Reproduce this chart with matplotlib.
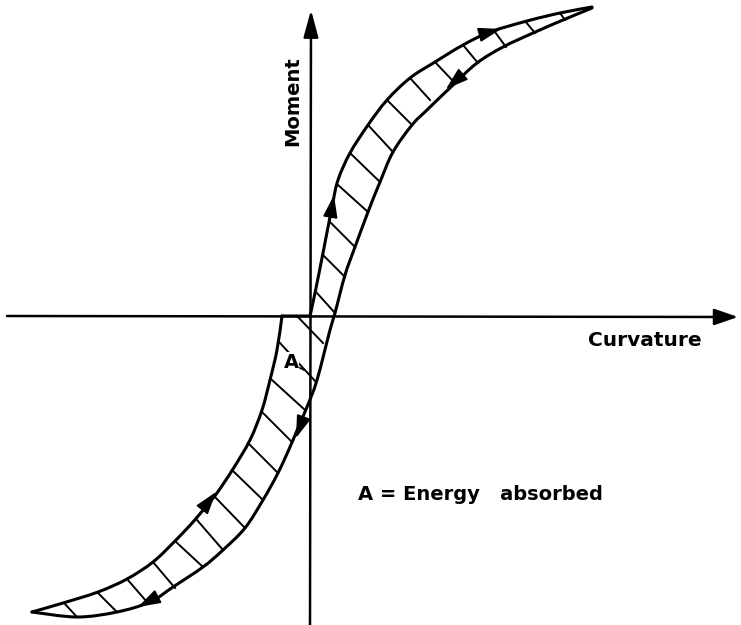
import numpy as np
import matplotlib.pyplot as plt
from matplotlib.patches import FancyArrowPatch, PathPatch
from matplotlib.path import Path

# --- loop data (curvature, moment), origin at the axes crossing ---
# loading branch: bottom-left tip -> top-right tip
load_x = [-278, -247, -212, -183, -157, -135, -117, -102, -93, -77, -60, -48, -40, -33, -28,
          0, 5, 13, 22, 28, 40, 58, 77, 100, 125, 153, 180, 217, 250, 282]
load_y = [-296, -287, -276, -263, -246, -225, -206, -188, -177, -153, -124, -94, -64, -34, 0,
          0, 23, 63, 109, 136, 163, 191, 216, 238, 254, 271, 284, 295, 303, 309]

# unloading branch: top-right tip -> bottom-left tip
unload_x = [282, 253, 223, 193, 167, 143, 117, 102, 83, 70, 58, 45, 35, 25, 20, 7, -3, -12,
            -20, -32, -47, -65, -87, -107, -137, -160, -193, -233, -278]
unload_y = [308, 296, 283, 269, 253, 231, 206, 191, 164, 134, 104, 69, 41, 3, -14, -64, -91,
            -112, -131, -157, -184, -212, -234, -251, -271, -286, -296, -301, -296]

# hatch strokes across the loop (start on loading branch, end on unloading branch)
hatch_x0 = [7, 13, 20, 28, 40, 58, 77, 100, 125, 153, 185, 215, 250,
            -13, -30, -38, -48, -62, -78, -95, -113, -135, -157, -183, -212, -245]
hatch_y0 = [23, 61, 94, 131, 163, 191, 216, 238, 254, 271, 284, 295, 303,
            0, -27, -64, -96, -127, -154, -181, -204, -225, -246, -263, -277, -288]
hatch_x1 = [25, 35, 45, 58, 70, 83, 102, 120, 142, 168, 196, 225, 255,
            13, 6, -5, -18, -32, -47, -65, -87, -107, -135, -163, -193, -233]
hatch_y1 = [3, 39, 69, 104, 134, 164, 191, 216, 236, 253, 269, 283, 296,
            -27, -66, -94, -126, -157, -184, -212, -234, -251, -272, -286, -296, -301]

# direction arrows on the loop (tail -> tip)
arr_tail = [(176, 283), (151, 240), (21, 103), (-7, -103), (-108, -194), (-153, -281)]
arr_tip = [(191, 287), (136, 227), (24, 121), (-14, -122), (-94, -176), (-172, -291)]


def smooth_path(xs, ys):
    # Catmull-Rom through the read points, drawn as cubic Bezier pieces
    p = np.column_stack([xs, ys]).astype(float)
    ext = np.vstack([p[0], p, p[-1]])
    verts = [p[0]]
    codes = [Path.MOVETO]
    for i in range(1, len(ext) - 2):
        c1 = ext[i] + (ext[i + 1] - ext[i - 1]) / 6.0
        c2 = ext[i + 1] - (ext[i + 2] - ext[i]) / 6.0
        verts += [c1, c2, ext[i + 1]]
        codes += [Path.CURVE4] * 3
    return Path(verts, codes)


fig = plt.figure(figsize=(7.41, 6.25), dpi=100)
ax = fig.add_axes([0, 0, 1, 1])
ax.set_xlim(-310, 431)
ax.set_ylim(-309, 316)
ax.axis('off')

# axes with arrows
ax.annotate('', xy=(428, -1), xytext=(-303, 0),
            arrowprops=dict(arrowstyle='-|>,head_length=1.45,head_width=0.5',
                            mutation_scale=10, lw=1.8, color='black',
                            shrinkA=0, shrinkB=0))
ax.annotate('', xy=(1, 306), xytext=(0, -312),
            arrowprops=dict(arrowstyle='-|>,head_length=1.65,head_width=0.45',
                            mutation_scale=10, lw=1.8, color='black',
                            shrinkA=0, shrinkB=0))

# loop: loading branch has a corner where it meets the curvature axis
pieces = [(load_x[:15], load_y[:15]), (load_x[14:16], load_y[14:16]),
          (load_x[15:], load_y[15:]), (unload_x, unload_y)]
for xs, ys in pieces:
    ax.add_patch(PathPatch(smooth_path(xs, ys), facecolor='none', edgecolor='black',
                           lw=2.2, capstyle='round', joinstyle='round'))

for x0, y0, x1, y1 in zip(hatch_x0, hatch_y0, hatch_x1, hatch_y1):
    ax.plot([x0, x1], [y0, y1], color='black', lw=1.4)

for tail, tip in zip(arr_tail, arr_tip):
    ax.add_patch(FancyArrowPatch(tail, tip, arrowstyle='-|>,head_length=1.4,head_width=0.45',
                                 mutation_scale=10, lw=1.2, color='black',
                                 shrinkA=0, shrinkB=0))

# labels
ax.text(-17, 215, 'Moment', rotation=90, ha='center', va='center',
        fontsize=14, fontweight='bold')
ax.text(335, -25, 'Curvature', ha='center', va='center',
        fontsize=14.5, fontweight='bold')
ax.text(-19, -46, 'A', ha='center', va='center', fontsize=14, fontweight='bold',
        bbox=dict(facecolor='white', edgecolor='none', pad=0.5))
ax.plot([-10, -6], [-52, -54], color='black', lw=1.2)
ax.text(48, -178, 'A = Energy   absorbed', ha='left', va='center',
        fontsize=14, fontweight='bold')

fig.savefig('out.png', dpi=100)
